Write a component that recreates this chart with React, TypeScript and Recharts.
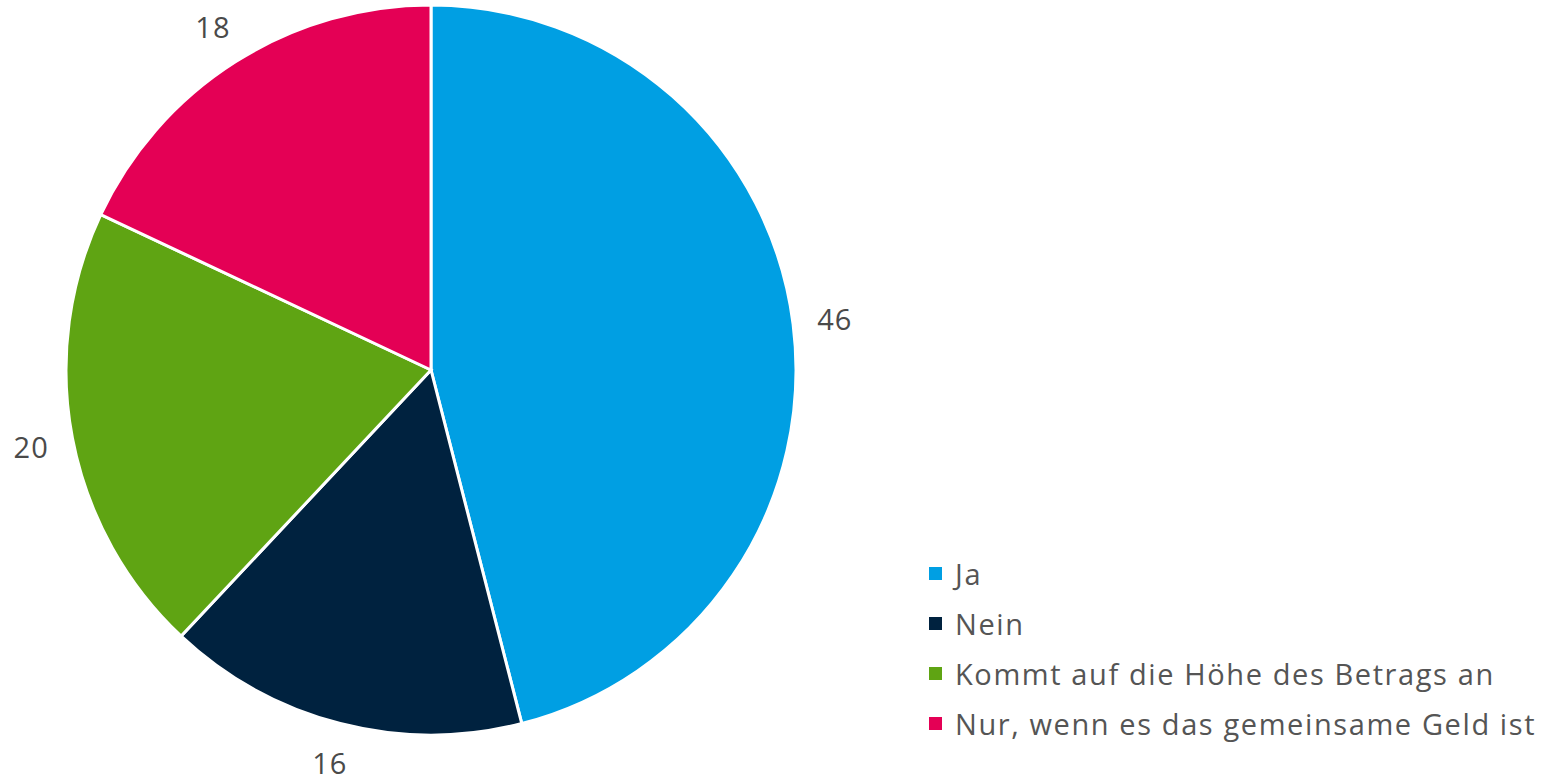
import { PieChart, Pie, Cell, Legend } from "recharts";

const categories = ["Ja", "Nein", "Kommt auf die Höhe des Betrags an", "Nur, wenn es das gemeinsame Geld ist"];
const values = [46, 16, 20, 18];
const colors = ["#009FE3", "#00223F", "#5FA413", "#E40055"];

const data = categories.map((name, i) => ({ name, value: values[i] }));

const RADIAN = Math.PI / 180;
const FONT = "'Open Sans', sans-serif";

const renderLabel = ({ cx, cy, midAngle, outerRadius, value }: any) => {
  const r = outerRadius + 42;
  const x = cx + r * Math.cos(-midAngle * RADIAN);
  const y = Math.min(cy + r * Math.sin(-midAngle * RADIAN), 762);
  return (
    <text x={x} y={y} fill="#4a4a4a" fontSize={29} fontFamily={FONT} letterSpacing={1} textAnchor="middle" dominantBaseline="central">
      {value}
    </text>
  );
};

const LegendContent = () => (
  <div style={{ fontFamily: FONT, fontSize: 29, color: "#555", letterSpacing: 1.6 }}>
    {categories.map((c, i) => (
      <div key={c} style={{ display: "flex", alignItems: "center", height: 50 }}>
        <span style={{ width: 13, height: 13, background: colors[i], marginRight: 13, display: "inline-block", flex: "none" }} />
        <span style={{ whiteSpace: "nowrap" }}>{c}</span>
      </div>
    ))}
  </div>
);

export default function App() {
  return (
    <div style={{ position: "absolute", left: 0, top: 0, width: 1541, height: 784, background: "#fff", overflow: "hidden" }}>
      <PieChart width={1541} height={784} margin={{ top: 0, right: 0, bottom: 0, left: 0 }}>
        <Pie
          data={data}
          dataKey="value"
          nameKey="name"
          cx={431}
          cy={370}
          outerRadius={365}
          startAngle={90}
          endAngle={-270}
          stroke="#fff"
          strokeWidth={3}
          label={renderLabel}
          labelLine={false}
          isAnimationActive={false}
        >
          {data.map((d, i) => (
            <Cell key={d.name} fill={colors[i]} />
          ))}
        </Pie>
        <Legend
          layout="vertical"
          align="right"
          verticalAlign="top"
          wrapperStyle={{ left: 929, top: 548, width: 612 }}
          content={<LegendContent />}
        />
      </PieChart>
    </div>
  );
}
